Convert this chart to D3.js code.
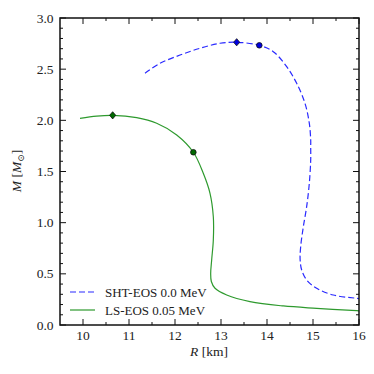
<!DOCTYPE html>
<html><head><meta charset="utf-8">
<script src="https://cdn.jsdelivr.net/npm/d3@7"></script>
<style>body{margin:0;background:#fff}svg{display:block}</style>
</head><body><svg id="c" width="374" height="374" font-family="'Liberation Serif','DejaVu Serif',serif"></svg>
<script>
const xTicks = [10, 11, 12, 13, 14, 15, 16];
const yTicks = [0.0, 0.5, 1.0, 1.5, 2.0, 2.5, 3.0];
const shtR = [11.348, 11.674, 12.109, 12.543, 12.978, 13.341, 13.833, 14.137, 14.428, 14.645, 14.826, 14.92, 14.95, 14.95, 14.95, 14.92, 14.862, 14.79, 14.732, 14.72, 14.754, 14.862, 15.08, 15.44, 15.95, 16.2];
const shtM = [2.460, 2.557, 2.638, 2.704, 2.753, 2.763, 2.733, 2.671, 2.524, 2.362, 2.166, 1.971, 1.808, 1.742, 1.612, 1.385, 1.156, 0.961, 0.765, 0.640, 0.537, 0.440, 0.359, 0.293, 0.261, 0.250];
const lsR = [9.935, 10.297, 10.645, 11.167, 11.602, 12.037, 12.399, 12.615, 12.761, 12.833, 12.833, 12.797, 12.776, 12.79, 12.87, 13.124, 13.63, 14.354, 15.08, 15.95, 16.2];
const lsM = [2.020, 2.042, 2.049, 2.026, 1.971, 1.857, 1.688, 1.482, 1.287, 1.058, 0.831, 0.635, 0.505, 0.425, 0.359, 0.293, 0.228, 0.186, 0.163, 0.140, 0.134];
const shtMarkR = [13.341, 13.833];
const shtMarkM = [2.763, 2.733];
const lsMarkR = [10.645, 12.399];
const lsMarkM = [2.049, 1.688];
const legendLabels = ["SHT-EOS 0.0 MeV", "LS-EOS 0.05 MeV"];

const svg = d3.select("#c");
const L = 60, R = 359, T = 18, B = 325;
const x = d3.scaleLinear().domain([9.5, 16]).range([L, R]);
const y = d3.scaleLinear().domain([0, 3]).range([B, T]);
const blue = "#2a2aff", green = "#2e9a2e";

svg.append("defs").append("clipPath").attr("id","clip").append("rect")
  .attr("x", L).attr("y", T).attr("width", R - L).attr("height", B - T);

const line = d3.line().x(d => x(d[0])).y(d => y(d[1])).curve(d3.curveCatmullRom.alpha(0.5));

const g = svg.append("g").attr("clip-path", "url(#clip)");
g.append("path").datum(shtR.map((r,i)=>[r, shtM[i]])).attr("d", line)
  .attr("fill","none").attr("stroke",blue).attr("stroke-width",1.2).attr("stroke-dasharray","6,3");
g.append("path").datum(lsR.map((r,i)=>[r, lsM[i]])).attr("d", line)
  .attr("fill","none").attr("stroke",green).attr("stroke-width",1.2);

function circ(cx, cy, fill) {
  svg.append("circle").attr("cx",cx).attr("cy",cy).attr("r",2.8)
    .attr("fill", fill).attr("stroke","#111").attr("stroke-width",0.8);
}
function diam(cx, cy, fill){
  const s = 3.6;
  svg.append("path").attr("d", `M${cx},${cy-s}L${cx+s*0.85},${cy}L${cx},${cy+s}L${cx-s*0.85},${cy}Z`)
    .attr("fill", fill).attr("stroke","#111").attr("stroke-width",0.8);
}
diam(x(shtMarkR[0]), y(shtMarkM[0]), "#0000e0");
circ(x(shtMarkR[1]), y(shtMarkM[1]), "#0000e0");
diam(x(lsMarkR[0]), y(lsMarkM[0]), "#006a00");
circ(x(lsMarkR[1]), y(lsMarkM[1]), "#006a00");

const ax = svg.append("g").attr("stroke","#111");
const xMinor = d3.range(10, 16.01, 0.5).filter(v => !xTicks.includes(v));
const yMinor = d3.range(0.1, 3.0, 0.1).map(v => +v.toFixed(1)).filter(v => !yTicks.includes(v));
xTicks.forEach(v => {
  ax.append("line").attr("x1",x(v)).attr("x2",x(v)).attr("y1",B).attr("y2",B-6);
  ax.append("line").attr("x1",x(v)).attr("x2",x(v)).attr("y1",T).attr("y2",T+6);
});
xMinor.forEach(v => {
  ax.append("line").attr("x1",x(v)).attr("x2",x(v)).attr("y1",B).attr("y2",B-3);
  ax.append("line").attr("x1",x(v)).attr("x2",x(v)).attr("y1",T).attr("y2",T+3);
});
yTicks.forEach(v => {
  ax.append("line").attr("y1",y(v)).attr("y2",y(v)).attr("x1",L).attr("x2",L+6);
  ax.append("line").attr("y1",y(v)).attr("y2",y(v)).attr("x1",R).attr("x2",R-6);
});
yMinor.forEach(v => {
  ax.append("line").attr("y1",y(v)).attr("y2",y(v)).attr("x1",L).attr("x2",L+3);
  ax.append("line").attr("y1",y(v)).attr("y2",y(v)).attr("x1",R).attr("x2",R-3);
});
svg.append("rect").attr("x",L).attr("y",T).attr("width",R-L).attr("height",B-T)
  .attr("fill","none").attr("stroke","#111").attr("stroke-width",1.5);

xTicks.forEach(v => svg.append("text").attr("x",x(v)).attr("y",340).attr("text-anchor","middle")
  .attr("font-size",13.5).attr("fill","#222").text(v));
yTicks.forEach(v => svg.append("text").attr("x",53.5).attr("y",y(v)+4.5).attr("text-anchor","end")
  .attr("font-size",13.5).attr("fill","#222").text(v.toFixed(1)));

const xt = svg.append("text").attr("x",209).attr("y",356).attr("text-anchor","middle").attr("font-size",13.5).attr("fill","#222");
xt.append("tspan").attr("font-style","italic").text("R");
xt.append("tspan").text(" [km]");
const yt = svg.append("text").attr("transform","translate(21,171) rotate(-90)").attr("text-anchor","middle").attr("font-size",13.5).attr("fill","#222");
yt.append("tspan").attr("font-style","italic").text("M");
yt.append("tspan").text(" [");
yt.append("tspan").attr("font-style","italic").text("M");
yt.append("tspan").attr("font-size",9).attr("dy",3).text("⊙");
yt.append("tspan").attr("dy",-3).text("]");

const lg = svg.append("g");
lg.append("line").attr("x1",70).attr("x2",95).attr("y1",292).attr("y2",292)
  .attr("stroke",blue).attr("stroke-width",1.2).attr("stroke-dasharray","6,3");
lg.append("line").attr("x1",70).attr("x2",95).attr("y1",310).attr("y2",310)
  .attr("stroke",green).attr("stroke-width",1.2);
lg.append("text").attr("x",105).attr("y",296.5).attr("font-size",13).attr("fill","#222").text(legendLabels[0]);
lg.append("text").attr("x",105).attr("y",314.5).attr("font-size",13).attr("fill","#222").text(legendLabels[1]);
</script></body></html>
